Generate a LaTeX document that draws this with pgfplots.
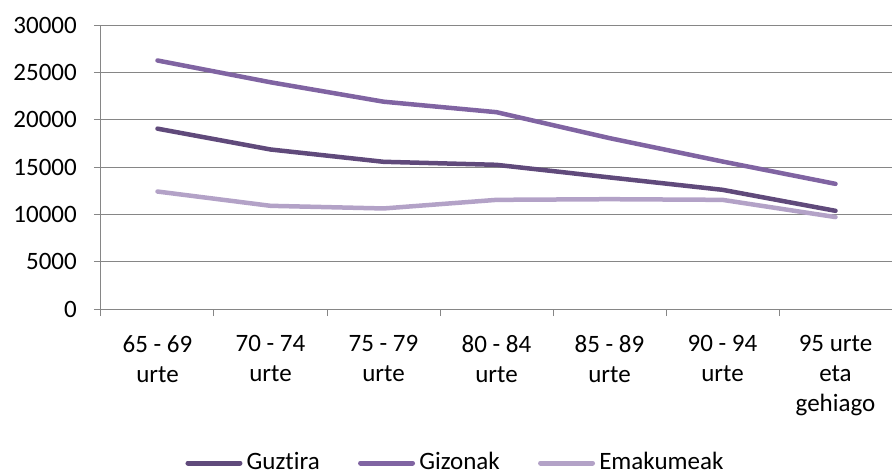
\documentclass[border=0pt]{standalone}
\usepackage{pgfplots}
\pgfplotsset{compat=1.18}
\usepackage{fontspec}
\setmainfont{Carlito}[Ligatures={NoCommon}]
\definecolor{cGuz}{HTML}{604A7B}
\definecolor{cGiz}{HTML}{8064A2}
\definecolor{cEma}{HTML}{B3A2C7}
\definecolor{gridc}{HTML}{868686}
\begin{document}
\fontsize{25bp}{30bp}\selectfont
\begin{tikzpicture}
\useasboundingbox (-101bp,-166bp) rectangle (791bp,309bp);
\begin{axis}[
  at={(0,0)}, anchor=south west,
  scale only axis, width=791bp, height=284bp,
  xmin=-0.5, xmax=6.5, ymin=0, ymax=30000,
  axis x line*=bottom, axis y line*=left,
  axis line style={gridc, line width=1bp, -},
  ytick={0,5000,...,30000},
  scaled y ticks=false,
  ymajorgrids, grid style={gridc, line width=1bp},
  xtick={-0.5,0.5,...,6.5}, xticklabels={},
  extra x ticks={0,1,2,3,4,5,6},
  extra x tick labels={{65 - 69\\urte},{70 - 74\\urte},{75 - 79\\urte},{80 - 84\\urte},{85 - 89\\urte},{90 - 94\\urte},{95 urte\\eta\\gehiago}},
  extra x tick style={major tick length=0pt, xticklabel style={align=center, inner sep=0pt, anchor=north, yshift=-26bp}},
  tick align=outside, major tick length=7bp,
  tick style={gridc, line width=1bp},
  /pgf/number format/assume math mode=true,
  yticklabel style={/pgf/number format/1000 sep={}, inner sep=0pt, anchor=east, xshift=-17bp},
  ticklabel style={font=\fontsize{25bp}{30bp}\selectfont},
  every axis plot/.append style={line width=4.5bp, line join=round, line cap=round},
  legend columns=3,
  legend style={at={(0.1037,0)}, anchor=west, yshift=-154bp, draw=none, fill=none, inner sep=0pt,
    font=\fontsize{25bp}{30bp}\selectfont,
    nodes={inner sep=0pt},
    /tikz/every odd column/.append style={column sep=2bp},
    /tikz/every even column/.append style={column sep=36bp}},
  legend image code/.code={\path (0bp,0bp) (57bp,0bp); \draw[line width=5bp, line cap=round] (2.5bp,0bp) -- (54.5bp,0bp);},
]
\addplot[cGuz] coordinates {(0,19050) (1,16850) (2,15550) (3,15230) (4,13900) (5,12590) (6,10370)};
\addlegendentry{Guztira}
\addplot[cGiz] coordinates {(0,26250) (1,23950) (2,21900) (3,20790) (4,18050) (5,15580) (6,13220)};
\addlegendentry{Gizonak}
\addplot[cEma] coordinates {(0,12410) (1,10900) (2,10620) (3,11530) (4,11600) (5,11530) (6,9710)};
\addlegendentry{Emakumeak}
\end{axis}
\end{tikzpicture}
\end{document}
